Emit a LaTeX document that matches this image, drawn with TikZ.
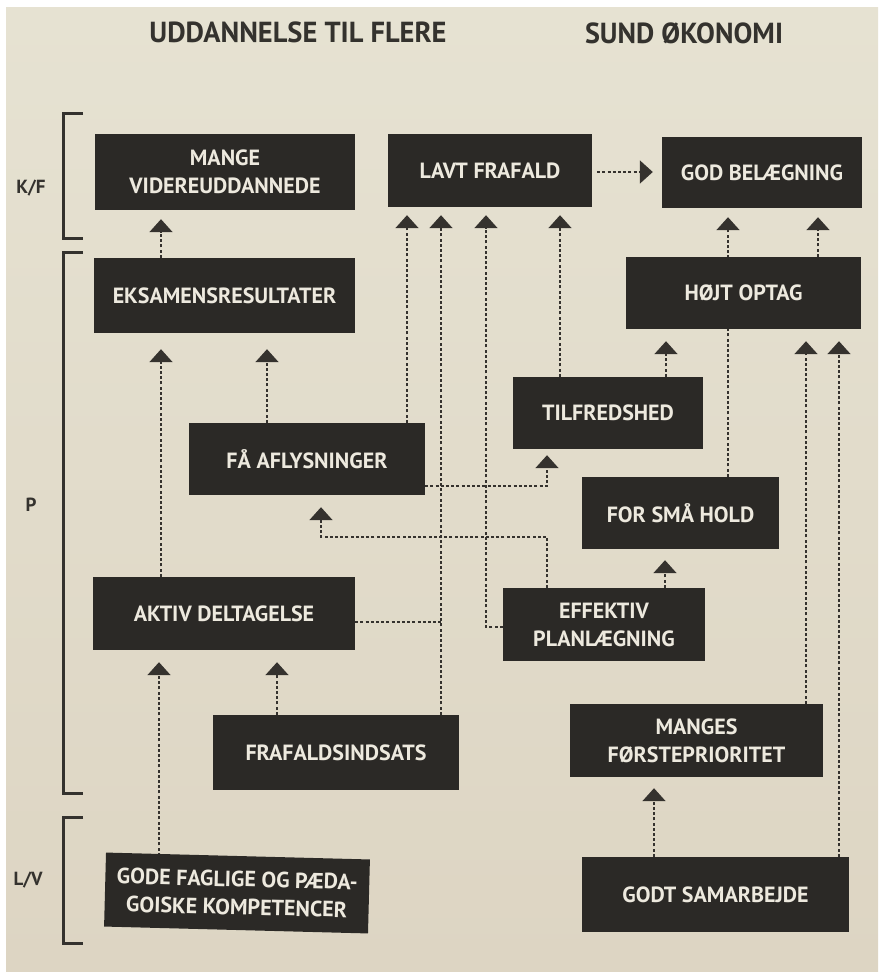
\documentclass[tikz,border=0pt]{standalone}
\usepackage{fontspec}
\setmainfont{PT Sans}
\usepackage{graphicx}
\usetikzlibrary{arrows.meta}

\definecolor{paperTop}{HTML}{E6E2D2}
\definecolor{paperBot}{HTML}{DDD5C3}
\definecolor{boxfill}{HTML}{2B2926}
\definecolor{boxtext}{HTML}{EDE9DE}
\definecolor{inkline}{HTML}{35322E}
\definecolor{inktext}{HTML}{34322E}

\pgfdeclarelayer{paper}
\pgfdeclarelayer{links}
\pgfsetlayers{paper,links,main}

\tikzset{
  box/.style={rectangle, fill=boxfill, text=boxtext, inner sep=0pt,
    align=center, font=\fontsize{22}{28}\selectfont\bfseries},
  heading/.style={text=inktext, inner sep=0pt,
    font=\fontsize{29}{30}\selectfont\bfseries},
  sidelabel/.style={text=inktext, inner sep=0pt,
    font=\fontsize{19}{20}\selectfont\bfseries},
  brk/.style={draw=inktext, line width=3pt},
  conn/.style={draw=inkline, line width=1.8pt, dash pattern=on 3pt off 2.2pt},
  arr/.style={conn, -{Triangle[width=23pt,length=13pt]}}
}

\begin{document}
\begin{tikzpicture}[x=1pt,y=-1pt]
\useasboundingbox (0,0) rectangle (878,974);

% paper
\begin{pgfonlayer}{paper}
  \fill[white] (0,0) rectangle (878,974);
  \shade[top color=paperTop, bottom color=paperBot] (6,8) rectangle (878,971);
\end{pgfonlayer}

% headings
\node[heading] (h1) at (298,32) {\resizebox{297pt}{\height}{UDDANNELSE TIL FLERE}};
\node[heading] (h2) at (684,33) {\resizebox{198pt}{\height}{SUND ØKONOMI}};

% level brackets
\draw[brk] (83,113) -- (63,113) -- (63,238) -- (83,238);
\draw[brk] (83,252) -- (63,252) -- (63,793) -- (83,793);
\draw[brk] (83,817) -- (63,817) -- (63,943) -- (83,943);
\node[sidelabel] (lkf) at (31,188) {K/F};
\node[sidelabel] (lp)  at (31,505) {P};
\node[sidelabel] (llv) at (28,880) {L/V};

% boxes
\node[box, minimum width=260pt, minimum height=76pt] (mange)  at (225,172)   {MANGE\\VIDEREUDDANNEDE};
\node[box, minimum width=204pt, minimum height=73pt] (lavt)   at (490,170.5) {LAVT FRAFALD};
\node[box, minimum width=200pt, minimum height=71pt] (god)    at (762,172.5) {GOD BELÆGNING};
\node[box, minimum width=261pt, minimum height=75pt] (eks)    at (224.5,295.5) {EKSAMENSRESULTATER};
\node[box, minimum width=235pt, minimum height=72pt] (hojt)   at (743.5,293) {HØJT OPTAG};
\node[box, minimum width=190pt, minimum height=72pt] (tilf)   at (608,413)   {TILFREDSHED};
\node[box, minimum width=236pt, minimum height=72pt] (faa)    at (307,459)   {FÅ AFLYSNINGER};
\node[box, minimum width=197pt, minimum height=72pt] (smaa)   at (680.5,513) {FOR SMÅ HOLD};
\node[box, minimum width=262pt, minimum height=73pt] (aktiv)  at (224,613.5) {AKTIV DELTAGELSE};
\node[box, minimum width=202pt, minimum height=73pt] (eff)    at (604,624.5) {EFFEKTIV\\PLANLÆGNING};
\node[box, minimum width=253pt, minimum height=73pt] (manges) at (696.5,740.5) {MANGES\\FØRSTEPRIORITET};
\node[box, minimum width=246pt, minimum height=75pt] (fraf)   at (336,752.5) {FRAFALDSINDSATS};
\node[box, minimum width=264pt, minimum height=74pt, rotate=-1.5] (gode) at (237,893)
  {GODE FAGLIGE OG PÆDA-\\GOISKE KOMPETENCER};
\node[box, minimum width=267pt, minimum height=75pt] (godt)   at (715.5,894.5) {GODT SAMARBEJDE};

% connector columns
\foreach \cx in {159,161,267,277,321,407,441,486,547,560,654,665,666,728,806,818,839}
  \coordinate (x\cx) at (\cx,0);

\begin{pgfonlayer}{links}
  % into MANGE VIDEREUDDANNEDE
  \draw[arr, shorten >=9pt] (eks.north -| x161) -- (mange.south -| x161);
  % into EKSAMENSRESULTATER
  \draw[arr, shorten >=16pt] (aktiv.north -| x161) -- (eks.south -| x161);
  \draw[arr, shorten >=16pt] (faa.north -| x267) -- (eks.south -| x267);
  % into LAVT FRAFALD
  \draw[arr, shorten >=8pt] (faa.north -| x407) -- (lavt.south -| x407);
  \draw[arr, shorten >=8pt] (fraf.north -| x441) -- (lavt.south -| x441);
  \coordinate (ak) at ([yshift=-8.5pt]aktiv.east);
  \draw[conn] (ak) -- (ak -| x441);
  \coordinate (ef) at ([yshift=-2.5pt]eff.west);
  \draw[arr, shorten >=8pt] (ef) -- (ef -| x486) -- (lavt.south -| x486);
  \draw[arr, shorten >=8pt] (tilf.north -| x560) -- (lavt.south -| x560);
  % LAVT FRAFALD to GOD BELÆGNING
  \coordinate (lv) at ([yshift=-1.5pt]lavt.east);
  \draw[arr, shorten <=5pt, shorten >=9pt] (lv) -- (lv -| god.west);
  % into GOD BELÆGNING
  \draw[arr, shorten >=9pt] (smaa.north -| x728) -- (god.south -| x728);
  \draw[arr, shorten >=9pt] (hojt.north -| x818) -- (god.south -| x818);
  % into HØJT OPTAG
  \draw[arr, shorten >=12pt] (tilf.north -| x666) -- (hojt.south -| x666);
  \draw[arr, shorten >=12pt] (manges.north -| x806) -- (hojt.south -| x806);
  \draw[arr, shorten >=12pt] (godt.north -| x839) -- (hojt.south -| x839);
  % FÅ AFLYSNINGER to TILFREDSHED
  \coordinate (fa) at ([yshift=-27pt]faa.east);
  \draw[arr, shorten >=6pt] (fa) -- (fa -| x547) -- (tilf.south -| x547);
  % EFFEKTIV PLANLÆGNING to FÅ AFLYSNINGER
  \coordinate (et) at (eff.north -| x547);
  \coordinate (eb) at ([yshift=51pt]et);
  \draw[arr, shorten >=12pt] (et) -- (eb) -- (eb -| x321) -- (faa.south -| x321);
  % EFFEKTIV PLANLÆGNING to FOR SMÅ HOLD
  \draw[arr, shorten >=11pt] (eff.north -| x665) -- (smaa.south -| x665);
  % into AKTIV DELTAGELSE
  \draw[arr, shorten >=12pt] (gode.north -| x159) -- (aktiv.south -| x159);
  \draw[arr, shorten >=12pt] (fraf.north -| x277) -- (aktiv.south -| x277);
  % GODT SAMARBEJDE to MANGES FØRSTEPRIORITET
  \draw[arr, shorten >=11pt] (godt.north -| x654) -- (manges.south -| x654);
\end{pgfonlayer}
\end{tikzpicture}
\end{document}
